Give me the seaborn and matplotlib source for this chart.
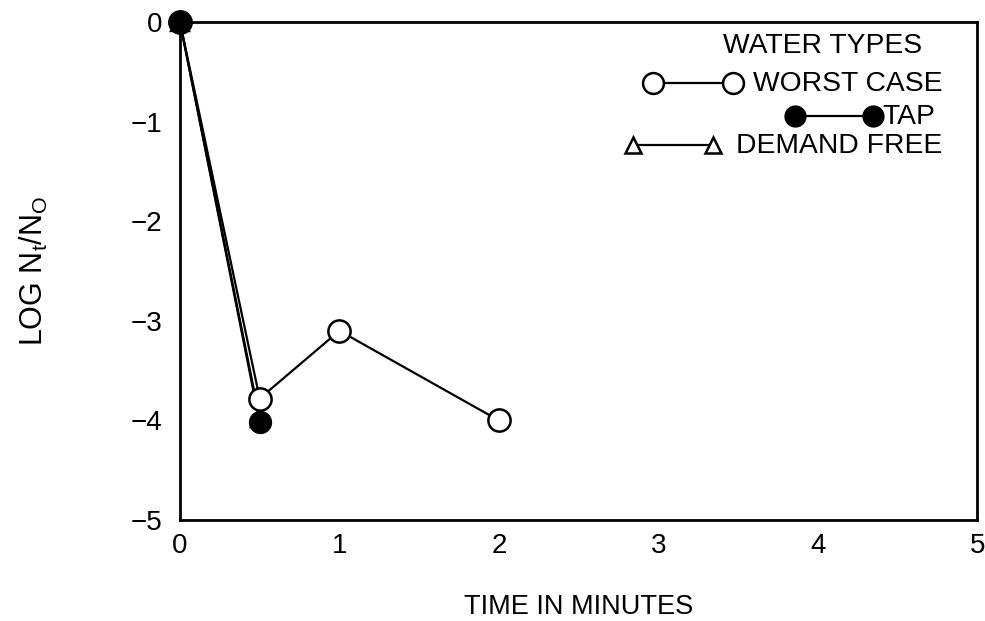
import matplotlib
matplotlib.use("Agg")
import matplotlib.pyplot as plt
import seaborn as sns

# Data
worst_time = [0.0, 0.5, 1.0, 2.0]
worst_log = [0.0, -3.78, -3.1, -4.0]
tap_time = [0.0, 0.5]
tap_log = [0.0, -4.02]
demand_time = [0.0, 0.5]
demand_log = [0.0, -3.98]

x_ticks = [0, 1, 2, 3, 4, 5]
y_ticks = [0, -1, -2, -3, -4, -5]

sns.set_theme(style="white")
plt.rcParams['font.family'] = ['Liberation Sans', 'DejaVu Sans']
plt.rcParams['mathtext.fontset'] = 'custom'
plt.rcParams['mathtext.rm'] = 'Liberation Sans'
plt.rcParams['text.color'] = 'black'
plt.rcParams['axes.labelcolor'] = 'black'
plt.rcParams['xtick.color'] = 'black'
plt.rcParams['ytick.color'] = 'black'

fig = plt.figure(figsize=(9.85, 6.21), dpi=100)
ax = fig.add_axes([0.1827, 0.1626, 0.8093, 0.802])

ms = 16
lw = 1.6
sns.lineplot(x=demand_time, y=demand_log, ax=ax, color='black', lw=lw,
             marker='^', markersize=13, markerfacecolor='white',
             markeredgecolor='black', markeredgewidth=1.7, zorder=2)
sns.lineplot(x=tap_time, y=tap_log, ax=ax, color='black', lw=lw,
             marker='o', markersize=ms, markerfacecolor='black',
             markeredgecolor='black', zorder=3)
sns.lineplot(x=worst_time, y=worst_log, ax=ax, color='black', lw=lw,
             marker='o', markersize=ms, markerfacecolor='white',
             markeredgecolor='black', markeredgewidth=1.8, zorder=4)
# tap point at origin drawn on top
sns.scatterplot(x=[tap_time[0]], y=[tap_log[0]], ax=ax, color='black',
                s=ms**2, edgecolor='black', zorder=5)
for art in list(ax.lines) + list(ax.collections):
    art.set_clip_on(False)

ax.set_xlim(0, 5)
ax.set_ylim(-5, 0)
ax.set_xticks(x_ticks)
ax.set_yticks(y_ticks)
ax.tick_params(axis='x', direction='inout', length=13, width=1.6,
               labelsize=20, pad=3, colors='black')
ax.tick_params(axis='y', direction='out', length=9, width=1.6,
               labelsize=20, pad=4, colors='black')
for s in ax.spines.values():
    s.set_visible(True)
    s.set_color('black')
    s.set_linewidth(2.0)

ax.set_xlabel("TIME IN MINUTES", fontsize=19.5, color='black')
ax.xaxis.set_label_coords(0.5, -0.20)
ax.xaxis.label.set_va('bottom')
ax.set_ylabel(r"LOG N$_\mathregular{t}$/N$_\mathregular{O}$", fontsize=22, color='black')
ax.yaxis.set_label_coords(-0.163, 0.5)

# Legend (hand-built)
tr = ax.transAxes
fs = 20.3
ax.text(0.931, 0.951, "WATER TYPES", transform=tr, ha='right', va='center', fontsize=fs, color='black')
ax.text(0.956, 0.876, "WORST CASE", transform=tr, ha='right', va='center', fontsize=fs, color='black')
ax.text(0.947, 0.809, "TAP", transform=tr, ha='right', va='center', fontsize=fs, color='black')
ax.text(0.956, 0.751, "DEMAND FREE", transform=tr, ha='right', va='center', fontsize=fs, color='black')
ax.plot([0.593, 0.694], [0.878, 0.878], transform=tr, color='black', lw=lw,
        marker='o', markersize=15, markerfacecolor='white', markeredgewidth=1.8, clip_on=False)
ax.plot([0.772, 0.869], [0.811, 0.811], transform=tr, color='black', lw=lw,
        marker='o', markersize=15, markerfacecolor='black', clip_on=False)
ax.plot([0.568, 0.669], [0.753, 0.753], transform=tr, color='black', lw=lw,
        marker='^', markersize=12, markerfacecolor='white', markeredgewidth=1.8, clip_on=False)

fig.savefig("out.png", dpi=100)
